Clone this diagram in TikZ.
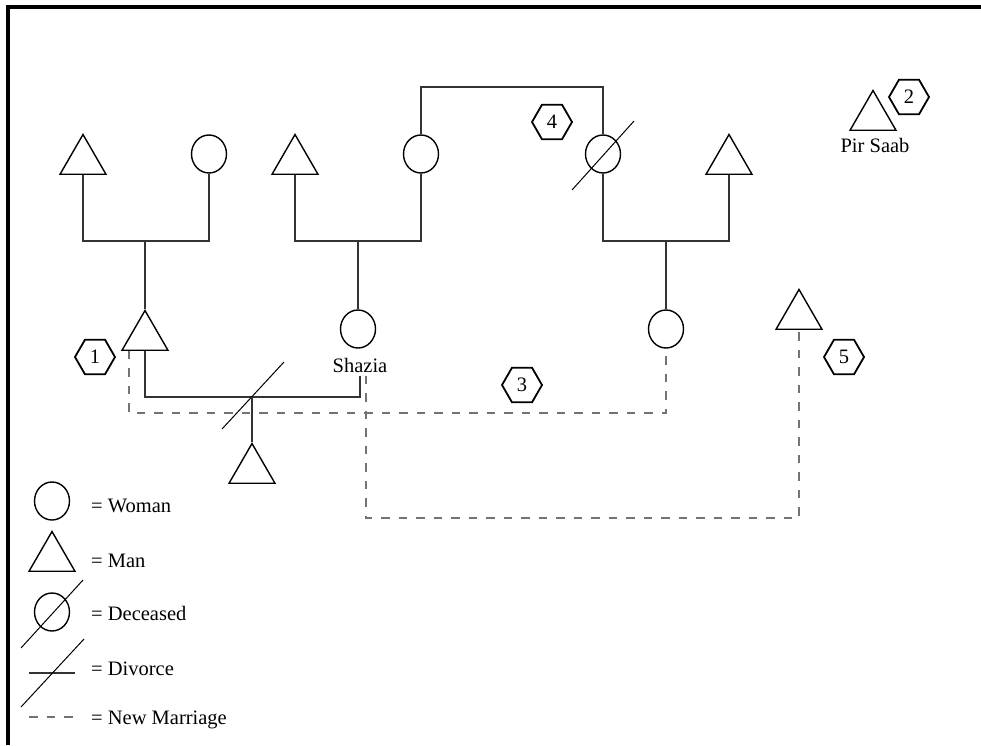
\documentclass[tikz,border=0pt]{standalone}
\usepackage{fontspec}
\setmainfont{Liberation Serif}
\usetikzlibrary{shapes.geometric}

\begin{document}
\begin{tikzpicture}[x=1pt, y=-1pt,
        every node/.style={font=\fontsize{20.5}{24}\selectfont},
        man/.style={draw, regular polygon, regular polygon sides=3, minimum size=53pt, inner sep=0pt, line width=1.4pt},
        woman/.style={draw, ellipse, minimum width=35pt, minimum height=38pt, inner sep=0pt, line width=1.4pt},
        tag/.style={draw, regular polygon, regular polygon sides=6, minimum size=40pt, inner sep=0pt, line width=1.8pt},
        link/.style={line width=1.3pt, draw=black!80},
        newm/.style={line width=1.5pt, draw=black!55, dash pattern=on 8.5pt off 9pt},
        cut/.style={line width=1pt}]
        \useasboundingbox (0,0) rectangle (981,745);
        \draw[line width=4.5pt] (8,745) -- (8,7) -- (981,7);

        % grandparents
        \node[man] at (83,161) (gf1) {};
        \node[woman] at (209,154) (gm1) {};
        \node[man] at (295,161) (gf2) {};
        \node[woman] at (421,154) (gm2) {};
        \node[woman] at (603,154) (gm3) {};
        \node[man] at (729,161) (gf3) {};

        % children
        \node[man] at (145,337) (ego) {};
        \node[woman] at (358,329) (shazia) {};
        \node[anchor=base] at (360,372) (shzlab) {Shazia};
        \node[woman] at (666,329) (wife2) {};
        \node[man] at (799,316) (man5) {};
        \node[man] at (252,470) (kid) {};
        \node[man] at (873,117) (pir) {};
        \node[anchor=base] at (875,152) (pirlab) {Pir Saab};

        % numbers
        \node[tag] at (95,357) (h1) {1};
        \node[tag] at (909,97) (h2) {2};
        \node[tag] at (522,385) (h3) {3};
        \node[tag] at (552,122) (h4) {4};
        \node[tag] at (844,357) (h5) {5};

        \coordinate (m1) at (145,241);
        \coordinate (m2) at (358,241);
        \coordinate (m3) at (666,241);
        \coordinate (top) at (512,87);
        \coordinate (d1) at (252,397);
        \coordinate (n1) at (666,413);
        \coordinate (n2) at (799,518);

        \draw[link] (gf1.side 2) |- (m1) -| (gm1.south);
        \draw[link] (m1) -- (ego.corner 1);
        \draw[link] (gf2.side 2) |- (m2) -| (gm2.south);
        \draw[link] (m2) -- (shazia.north);
        \draw[link] (gm3.south) |- (m3) -| (gf3.side 2);
        \draw[link] (m3) -- (wife2.north);
        \draw[link] (gm2.north) |- (top) -| (gm3.north);
        \draw[cut] ([shift={(-31,36)}]gm3.center) -- ([shift={(31,-33)}]gm3.center);

        \draw[link, line width=2.4pt] (ego.side 2) |- (d1) -| (shzlab.south);
        \draw[cut] ([shift={(-30,32)}]d1) -- ([shift={(32,-35)}]d1);
        \draw[link] (d1) -- (kid.corner 1);

        \draw[newm] ([xshift=-16pt]ego.side 2) |- (n1) -- (wife2.south);
        \draw[newm] ([xshift=6pt]shzlab.south) |- (n2) -- (man5.side 2);

        % legend
        \node[woman] at (52,501) (lwoman) {};
        \node[man] at (52,558) (lman) {};
        \node[woman] at (52,612) (ldead) {};
        \draw[cut] ([shift={(-31,36)}]ldead.center) -- ([shift={(31,-32)}]ldead.center);
        \draw[link] (29,673) -- (75,673);
        \draw[cut] (21,707) -- (84,639);
        \draw[newm] (29,717) -- (74,717);
        \node[anchor=base west, inner sep=0pt] at (91,512) (twoman) {= Woman};
        \node[anchor=base west, inner sep=0pt] at (91,567) (tman) {= Man};
        \node[anchor=base west, inner sep=0pt] at (91,620) (tdead) {= Deceased};
        \node[anchor=base west, inner sep=0pt] at (91,675) (tdiv) {= Divorce};
        \node[anchor=base west, inner sep=0pt] at (91,724) (tnew) {= New Marriage};
    \end{tikzpicture}
\end{document}
